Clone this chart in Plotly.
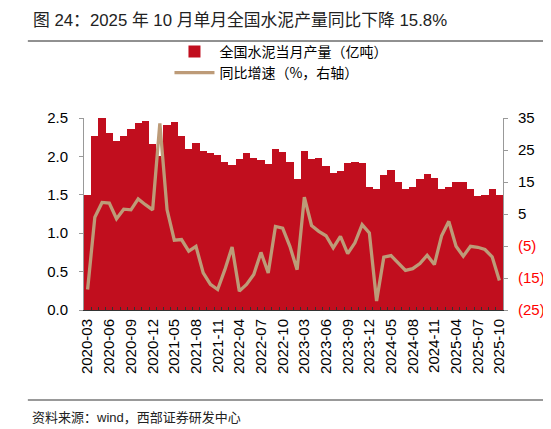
import plotly.graph_objects as go

# monthly data (Jan/Feb are not reported separately)
months = [
    "2020-03", "2020-04", "2020-05", "2020-06", "2020-07", "2020-08", "2020-09", "2020-10", "2020-11", "2020-12",
    "2021-03", "2021-04", "2021-05", "2021-06", "2021-07", "2021-08", "2021-09", "2021-10", "2021-11", "2021-12",
    "2022-03", "2022-04", "2022-05", "2022-06", "2022-07", "2022-08", "2022-09", "2022-10", "2022-11", "2022-12",
    "2023-03", "2023-04", "2023-05", "2023-06", "2023-07", "2023-08", "2023-09", "2023-10", "2023-11", "2023-12",
    "2024-03", "2024-04", "2024-05", "2024-06", "2024-07", "2024-08", "2024-09", "2024-10", "2024-11", "2024-12",
    "2025-03", "2025-04", "2025-05", "2025-06", "2025-07", "2025-08", "2025-09", "2025-10",
]

# cement output, 100 million tonnes
production = [
    1.50, 2.26, 2.51, 2.30, 2.20, 2.27, 2.36, 2.43, 2.46, 2.16,
    2.00, 2.41, 2.45, 2.26, 2.09, 2.17, 2.07, 2.04, 2.02, 1.93,
    1.89, 1.97, 2.04, 1.98, 1.95, 1.90, 2.10, 2.06, 1.93, 1.70,
    2.07, 1.97, 1.98, 1.87, 1.79, 1.81, 1.91, 1.93, 1.92, 1.60,
    1.57, 1.76, 1.82, 1.67, 1.57, 1.60, 1.70, 1.77, 1.72, 1.57,
    1.60, 1.67, 1.67, 1.57, 1.48, 1.50, 1.57, 1.50,
]

# year-on-year growth, %
yoy = [
    -18.6, 4.0, 8.6, 8.4, 3.5, 6.5, 6.3, 9.7, 7.9, 6.3,
    33.3, 6.3, -3.2, -3.0, -6.6, -5.1, -13.4, -17.0, -18.6, -12.4,
    -5.3, -19.1, -17.0, -13.9, -7.0, -13.4, 1.1, 0.6, -5.1, -12.4,
    10.3, 1.4, -0.4, -1.8, -5.6, -2.0, -7.4, -4.0, 1.7, -0.9,
    -22.2, -8.5, -8.0, -10.3, -12.6, -12.1, -10.5, -7.9, -10.8, -1.8,
    2.7, -5.1, -8.2, -5.1, -5.4, -6.1, -8.4, -15.8,
]

left_ticks = [0, 0.5, 1.0, 1.5, 2.0, 2.5]
right_ticks = [-25, -15, -5, 5, 15, 25, 35]

BAR_COLOR = "#C10E1E"
LINE_COLOR = "#BD9B78"
FONT = "Liberation Sans, Arial, Noto Sans CJK SC"

# show every third month as label, tick marks at every boundary
xlabels = [m if i % 3 == 0 else "" for i, m in enumerate(months)]
right_text = [
    "<span style='color:#FF0000'>(%d)</span>" % abs(v) if v < 0 else str(v)
    for v in right_ticks
]

fig = go.Figure()

fig.add_trace(go.Bar(x=months, y=production,
                     name="全国水泥当月产量（亿吨）",
                     marker=dict(color=BAR_COLOR, line=dict(width=0)),
                     yaxis="y"))

fig.add_trace(go.Scatter(x=months, y=yoy,
                         mode="lines",
                         name="同比增速（%，右轴）",
                         line=dict(color=LINE_COLOR, width=3.3),
                         yaxis="y2"))

# page body adds 8px, so margins are 8px smaller than the picture
fig.update_layout(
    width=551, height=429,
    margin=dict(l=76, r=56, t=110, b=127),
    paper_bgcolor="white", plot_bgcolor="white",
    font=dict(family=FONT, size=15, color="#000"),
    bargap=0,
    showlegend=True,
    legend=dict(x=0.204, y=1.428, xanchor="left", yanchor="top",
                bgcolor="rgba(0,0,0,0)", tracegroupgap=0, itemwidth=40,
                font=dict(family="Noto Sans CJK SC", size=14, color="#000")),
    xaxis=dict(type="category", tickmode="array",
               tickvals=months, ticktext=xlabels,
               tickangle=-90, tickson="boundaries",
               ticks="inside", ticklen=3, tickcolor="#333",
               ticklabelstandoff=2,
               showline=True, linecolor="#333", linewidth=1,
               showgrid=False, tickfont=dict(size=15)),
    yaxis=dict(range=[0, 2.5], tickvals=left_ticks, tickformat=".1f",
               showline=True, linecolor="#999", linewidth=1,
               ticks="outside", ticklen=4, tickcolor="#999",
               ticklabelstandoff=8,
               showgrid=False, zeroline=False, tickfont=dict(size=15)),
    yaxis2=dict(range=[-25, 35], overlaying="y", side="right",
                tickvals=right_ticks, ticktext=right_text,
                showline=True, linecolor="#999", linewidth=1,
                ticks="outside", ticklen=4, tickcolor="#999",
                ticklabelstandoff=7,
                showgrid=False, zeroline=False, tickfont=dict(size=15)),
)

# header / footer rules
fig.add_shape(type="line", xref="paper", yref="paper",
              x0=-0.134, x1=1.12, y0=1.401, y1=1.401,
              line=dict(color="#222", width=1))
fig.add_shape(type="line", xref="paper", yref="paper",
              x0=-0.134, x1=1.12, y0=-0.469, y1=-0.469,
              line=dict(color="#777", width=1.5))

fig.add_annotation(text="图 24：2025 年 10 月单月全国水泥产量同比下降 15.8%",
                   xref="paper", yref="paper", x=-0.126, y=1.51,
                   xanchor="left", yanchor="middle", showarrow=False,
                   font=dict(family=FONT, size=16.8, color="#222"))
fig.add_annotation(text="资料来源：wind，西部证券研发中心",
                   xref="paper", yref="paper", x=-0.130, y=-0.558,
                   xanchor="left", yanchor="middle", showarrow=False,
                   font=dict(family=FONT, size=13, color="#222"))

fig.write_html("out.html")
